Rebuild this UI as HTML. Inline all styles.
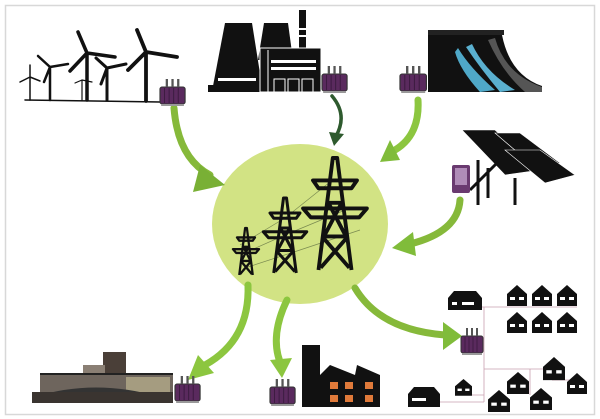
<!DOCTYPE html>
<html><head><meta charset="utf-8"><style>html,body{margin:0;padding:0;background:#fff}svg{display:block}</style></head>
<body>
<svg width="600" height="419" viewBox="0 0 600 419" xmlns="http://www.w3.org/2000/svg">
<defs>
<g id="tr">
<rect x="0" y="9" width="22" height="17" rx="2" fill="#5a2a5e" stroke="#333" stroke-width="1"/>
<g stroke="#3a1a3e" stroke-width="0.8"><line x1="4" y1="10" x2="4" y2="25"/><line x1="8" y1="10" x2="8" y2="25"/><line x1="12" y1="10" x2="12" y2="25"/><line x1="16" y1="10" x2="16" y2="25"/></g>
<line x1="6" y1="1" x2="6" y2="9" stroke="#555" stroke-width="2"/>
<line x1="11" y1="1" x2="11" y2="9" stroke="#555" stroke-width="2"/>
<line x1="16" y1="1" x2="16" y2="9" stroke="#555" stroke-width="2"/>
<rect x="1" y="26" width="20" height="2" fill="#999"/>
</g>
<g id="house"><path d="M0 9 L10 0 L20 9 L20 21 L0 21Z" fill="#111"/><rect x="3" y="12" width="5" height="3" fill="#fff"/><rect x="12" y="12" width="5" height="3" fill="#fff"/></g>
<g id="tower" fill="none" stroke="#111" stroke-linejoin="round">
<path d="M-15 100 L-2 0 L2 0 L15 100 M-11 70 L11 70 M-7 40 L7 40 M-6 40 L10 70 M6 40 L-10 70 M-10 72 L13 98 M10 72 L-13 98"/>
<path d="M-20 20 L20 20 L15 27 L-15 27Z M-29 45 L29 45 L22 53 L-22 53Z"/>
</g>
</defs>
<rect x="5.5" y="5.5" width="589" height="409" fill="#fff" stroke="#d8d8d8" stroke-width="1.5"/>

<!-- central circle -->
<ellipse cx="300" cy="224" rx="88" ry="80" fill="#d2e384"/>

<!-- wires -->
<path d="M240 245 L285 218 L330 182 M240 255 L285 235 L350 208 M245 268 L300 250 L360 230" stroke="#7a8a50" stroke-width="0.7" fill="none"/>
<!-- towers -->
<g stroke-width="3.5"><use href="#tower" transform="translate(335,158) scale(1.1,1.12)"/></g>
<g stroke-width="4"><use href="#tower" transform="translate(285,198) scale(0.75,0.75)"/></g>
<g stroke-width="5"><use href="#tower" transform="translate(246,228) scale(0.45,0.47)"/></g>

<!-- arrows -->
<g fill="none" stroke-linecap="round">
<path d="M174 108 Q178 158 210 175" stroke="#86b93a" stroke-width="7"/>
<path d="M332 96 Q348 115 336 136" stroke="#2e5a2e" stroke-width="3.5"/>
<path d="M418 100 Q420 135 395 150" stroke="#8cc63f" stroke-width="7"/>
<path d="M460 200 Q458 232 410 244" stroke="#86b93a" stroke-width="7"/>
<path d="M248 285 Q250 340 205 365" stroke="#8cc63f" stroke-width="7"/>
<path d="M287 300 Q270 335 280 362" stroke="#8cc63f" stroke-width="7"/>
<path d="M355 288 Q380 330 445 335" stroke="#86b93a" stroke-width="7"/>
</g>
<polygon points="200,165 225,185 193,192" fill="#79b035"/>
<polygon points="329,132 344,134 334,146" fill="#2e5a2e"/>
<polygon points="390,140 400,160 380,162" fill="#80bc3a"/>
<polygon points="413,232 416,256 392,248" fill="#80bc3a"/>
<polygon points="198,355 214,373 188,380" fill="#8cc63f"/>
<polygon points="270,360 292,358 282,378" fill="#8cc63f"/>
<polygon points="443,322 462,336 443,350" fill="#80bc3a"/>

<!-- wind turbines -->
<g stroke="#111" stroke-linecap="round" fill="none">
<line x1="25" y1="100" x2="160" y2="102" stroke-width="1.5"/>
<path d="M30 100 L30 77 M30 77 L30 65 M30 77 L20 82 M30 77 L40 81" stroke-width="1.5"/>
<path d="M82 100 L82 80 M82 80 L75 83 M82 80 L92 82" stroke-width="1.2"/>
<path d="M50 100 L50 67 M50 67 L38 56 M50 67 L44 82 M50 67 L68 64" stroke-width="2.5"/>
<path d="M87 100 L87 53 M87 53 L78 32 M87 53 L70 71 M87 53 L115 57" stroke-width="3.5"/>
<path d="M107 100 L107 68 M107 68 L96 58 M107 68 L101 84 M107 68 L126 64" stroke-width="3"/>
<path d="M146 101 L146 52 M146 52 L137 30 M146 52 L128 70 M146 52 L177 57" stroke-width="3.8"/>
</g>
<use href="#tr" transform="translate(160,78) scale(1.14,1)"/>

<!-- thermal plant -->
<g fill="#111">
<path d="M213 86 L225 23 L252 23 L262 86Z"/>
<path d="M258 60 L264 23 L288 23 L293 60Z"/>
<rect x="299" y="10" width="7" height="48"/>
<rect x="208" y="85" width="113" height="7"/>
<rect x="260" y="48" width="61" height="44" stroke="#fff" stroke-width="1"/>
</g>
<g fill="#fff">
<rect x="218" y="78" width="38" height="3"/>
<rect x="271" y="60" width="45" height="3"/><rect x="271" y="67" width="45" height="3"/>
<rect x="299" y="28" width="7" height="2"/><rect x="299" y="35" width="7" height="2"/>
<line x1="268" y1="50" x2="268" y2="92" stroke="#fff"/>
</g>
<g fill="none" stroke="#fff" stroke-width="1"><rect x="274" y="79" width="11" height="13"/><rect x="288" y="79" width="11" height="13"/><rect x="302" y="79" width="11" height="13"/></g>
<use href="#tr" transform="translate(322,65) scale(1.14,1)"/>

<!-- dam -->
<rect x="428" y="30" width="76" height="5" fill="#222"/>
<path d="M428 35 L502 35 Q510 75 542 86 L542 92 L428 92Z" fill="#111"/>
<path d="M495 38 Q505 74 542 87 L542 92 L525 92 Q502 72 488 40Z" fill="#555"/>
<path d="M458 48 Q470 68 495 90 L480 92 Q460 70 455 52Z" fill="#4fa8c8"/>
<path d="M472 44 Q485 72 515 90 L500 92 Q480 68 466 47Z" fill="#5ab0d0"/>
<use href="#tr" transform="translate(400,65) scale(1.2,1)"/>

<!-- solar -->
<g fill="#111" stroke="#fff" stroke-width="0.6">
<path d="M462 130 L495 130 L540 170 L505 175Z"/>
<path d="M495 133 L520 133 L560 163 L538 170Z"/>
<path d="M505 150 L540 150 L575 175 L545 183Z"/>
</g>
<g stroke="#111" stroke-width="3"><line x1="478" y1="160" x2="478" y2="205"/><line x1="488" y1="168" x2="488" y2="198"/><line x1="515" y1="178" x2="515" y2="205"/><line x1="470" y1="190" x2="500" y2="160"/></g>
<rect x="452" y="165" width="18" height="28" rx="2" fill="#6a3a70"/>
<rect x="455" y="168" width="12" height="17" fill="#b08cb8"/>

<!-- warehouse -->
<rect x="103" y="352" width="23" height="40" fill="#4a3f38"/>
<rect x="83" y="365" width="22" height="27" fill="#8a7f74"/>
<rect x="40" y="374" width="133" height="20" fill="#6e655d"/>
<rect x="126" y="377" width="44" height="16" fill="#a59c80"/>
<rect x="40" y="373" width="133" height="2" fill="#222"/>
<path d="M34 397 Q95 378 160 397Z" fill="#333"/>
<rect x="32" y="392" width="141" height="11" fill="#3a3430"/>
<use href="#tr" transform="translate(175,375) scale(1.14,1)"/>

<!-- factory -->
<path d="M302 407 L302 345 L320 345 L320 375 L330 365 L355 375 L357 365 L380 375 L380 407Z" fill="#111"/>
<g fill="#e07a3a"><rect x="330" y="382" width="8" height="7"/><rect x="345" y="382" width="8" height="7"/><rect x="365" y="382" width="8" height="7"/><rect x="330" y="395" width="8" height="7"/><rect x="345" y="395" width="8" height="7"/><rect x="365" y="395" width="8" height="7"/></g>
<use href="#tr" transform="translate(270,378) scale(1.14,1)"/>

<!-- houses -->
<g stroke="#c9a0b0" stroke-width="0.8" fill="none">
<path d="M482 307 L577 307 M484 307 L484 402 M484 369 L552 369 M440 402 L484 402 M472 395 L484 395 M530 369 L530 395 M552 380 L575 380"/>
</g>
<use href="#tr" transform="translate(461,327)"/>
<g transform="translate(448,290)"><path d="M0 8 L6 1 L28 1 L34 8 L34 20 L0 20Z" fill="#111"/><rect x="4" y="12" width="5" height="3" fill="#fff"/><rect x="14" y="12" width="12" height="3" fill="#fff"/></g>
<use href="#house" transform="translate(507,285)"/><use href="#house" transform="translate(532,285)"/><use href="#house" transform="translate(557,285)"/>
<use href="#house" transform="translate(507,312)"/><use href="#house" transform="translate(532,312)"/><use href="#house" transform="translate(557,312)"/>
<g transform="translate(408,386)"><path d="M0 8 L6 1 L26 1 L32 8 L32 21 L0 21Z" fill="#111"/><rect x="4" y="12" width="14" height="3" fill="#fff"/></g>
<use href="#house" transform="translate(455,379) scale(0.85,0.8)"/>
<use href="#house" transform="translate(488,390) scale(1.1,1.05)"/>
<use href="#house" transform="translate(507,372) scale(1.1,1.05)"/>
<use href="#house" transform="translate(530,388) scale(1.1,1.05)"/>
<use href="#house" transform="translate(543,357) scale(1.1,1.1)"/>
<use href="#house" transform="translate(567,373) scale(1,1)"/>
</svg>
</body></html>
